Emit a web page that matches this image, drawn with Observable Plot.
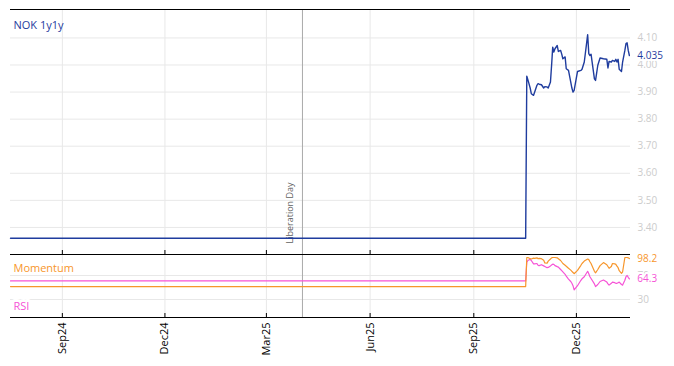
<!DOCTYPE html>
<html><head><meta charset="utf-8">
<script src="https://cdn.jsdelivr.net/npm/d3@7"></script>
<script src="https://cdn.jsdelivr.net/npm/@observablehq/plot@0.6"></script>
<style>
body{margin:0;background:#fff;}
#wrap{position:relative;width:674px;height:366px;font-family:"Open Sans",sans-serif;}
#wrap svg{position:absolute;left:0;overflow:visible;}
</style></head><body><div id="wrap"></div>
<script>
const dates = ["2024-07-17","2025-10-17",
"2025-10-18","2025-10-19","2025-10-21","2025-10-22","2025-10-24","2025-10-25","2025-10-27","2025-10-28","2025-10-29","2025-10-31",
"2025-11-02","2025-11-03","2025-11-05","2025-11-06","2025-11-08","2025-11-09","2025-11-10","2025-11-11","2025-11-12","2025-11-14",
"2025-11-15","2025-11-17","2025-11-18","2025-11-19","2025-11-21","2025-11-22","2025-11-24","2025-11-26","2025-11-27","2025-11-28",
"2025-11-29","2025-12-02","2025-12-05","2025-12-06","2025-12-08","2025-12-11","2025-12-12","2025-12-13","2025-12-14","2025-12-17",
"2025-12-18","2025-12-20","2025-12-22","2025-12-25","2025-12-28","2025-12-29","2025-12-30","2026-01-01","2026-01-02","2026-01-04",
"2026-01-05","2026-01-06","2026-01-07","2026-01-08","2026-01-10","2026-01-11","2026-01-13","2026-01-14","2026-01-15","2026-01-16","2026-01-17"];
const nok = [3.36,3.36,
3.959,3.945,3.915,3.894,3.888,3.900,3.925,3.931,3.929,3.927,
3.915,3.920,3.919,3.915,3.937,3.999,4.066,4.048,4.060,4.072,
4.050,4.054,4.040,4.023,4.030,3.986,3.980,3.937,3.915,3.900,
3.906,3.976,3.980,3.984,4.011,4.112,4.042,4.035,4.040,3.949,
3.943,3.999,4.026,4.023,4.021,3.989,4.013,4.011,4.017,4.013,
4.021,4.011,4.021,3.984,3.976,4.011,4.054,4.079,4.082,4.054,4.035];
const momentum = [51.5,51.5,
100,100,98,97.5,99,98.5,99.5,98,98.5,98,
95.5,91,90.5,94,97.5,99.5,100,100,100,99.5,
98,95,92.5,90,87,85.5,82,79,77,75,
73,78.5,87,90,94,97.5,96.5,93,90,77,
74.5,80,86.5,91.5,88,85,82,85,90,89.5,
88.5,85.5,83,78,73.5,76,100,100,100,99.5,98.2];
const rsi = [61,61,
92,95,97,95,89.5,89.5,90,87,86.5,88,
86,85,83,83.5,86,87.5,89,88.5,86.5,84.8,
84,80,78,76,72,69,64,60,57,53,
46,53,62,64.5,68,77,73,68,65,56,
51.5,55,60,62.5,59,56,54,57,59,58,
57,57,58,59,55,54,62,68,70,67,64.3];
const xTicks = ["2024-09-01","2024-12-01","2025-03-01","2025-06-01","2025-09-01","2025-12-01"];
const nokTicks = [3.4,3.5,3.6,3.7,3.8,3.9,4.0,4.1];
const indTicks = [30,70];
const eventDate = "2025-04-02";
const eventLabel = "Liberation Day";
const seriesName = "NOK 1y1y";
const momName = "Momentum";
const rsiName = "RSI";

const parse = d3.utcParse("%Y-%m-%d");
const rows = dates.map((d,i)=>({date:parse(d), nok:nok[i], mom:momentum[i], rsi:rsi[i]}));
const xT = xTicks.map(parse);
const ev = parse(eventDate);
const xDomain = [parse("2024-07-17"), parse("2026-01-18")];
const nokDomain = [3.30, 4.205];
const indDomain = [0, 105];
const last = rows[rows.length-1];
const blue = "#1f3c9e", orange = "#f7962b", pink = "#f653d6", grid = "#e8e8e8", tickCol = "#cccccc";
const W = 674, mL = 10, mR = 44;
const style = {fontFamily:"Open Sans, sans-serif", fontSize:"10px", background:"transparent", overflow:"visible"};

const topPlot = Plot.plot({
  width: W, height: 256, marginTop: 9, marginBottom: 2, marginLeft: mL, marginRight: mR,
  style,
  x: {type:"utc", domain: xDomain, axis: null},
  y: {domain: nokDomain, axis: null},
  marks: [
    Plot.gridY(nokTicks, {stroke: grid, strokeOpacity: 1}),
    Plot.gridX(xT, {stroke: grid, strokeOpacity: 1}),
    Plot.ruleX([ev], {stroke: "#aaaaaa"}),
    Plot.text([eventLabel], {x: ev, y: nokDomain[0], rotate: -90, textAnchor: "start", lineAnchor: "middle", dx: -12, dy: -11, fill: "#5f5f5f", fontSize: 9}),
    Plot.line(rows, {x: "date", y: "nok", stroke: blue, strokeWidth: 1.4}),
    Plot.ruleY([nokDomain[1]], {stroke: "black"}),
    Plot.ruleY([nokDomain[0]], {stroke: "black"}),
    Plot.axisY(nokTicks, {anchor: "right", tickSize: 0, tickPadding: 7, tickFormat: d3.format(".2f"), fill: tickCol, fontSize: 10, label: null}),
    Plot.text([last], {x: "date", y: "nok", text: d => d3.format(".3f")(d.nok), dx: 8, textAnchor: "start", fill: blue, stroke: "white", strokeWidth: 4, fontSize: 10}),
    Plot.text([seriesName], {frameAnchor: "top-left", dx: 3, dy: 16, textAnchor: "start", lineAnchor: "middle", fill: blue, fontSize: 11})
  ]
});

const bottomPlot = Plot.plot({
  width: W, height: 116, marginTop: 4, marginBottom: 49, marginLeft: mL, marginRight: mR,
  style,
  x: {type:"utc", domain: xDomain, axis: null},
  y: {domain: indDomain, axis: null},
  marks: [
    Plot.gridY(indTicks, {stroke: grid, strokeOpacity: 1}),
    Plot.gridX(xT, {stroke: grid, strokeOpacity: 1}),
    Plot.ruleX([ev], {stroke: "#aaaaaa"}),
    Plot.text([momName], {frameAnchor: "top-left", dx: 3, dy: 14, textAnchor: "start", lineAnchor: "middle", fill: orange, fontSize: 11, stroke: "white", strokeWidth: 6}),
    Plot.text([rsiName], {frameAnchor: "bottom-left", dx: 3, dy: -11, textAnchor: "start", lineAnchor: "middle", fill: pink, fontSize: 11, stroke: "white", strokeWidth: 6}),
    Plot.line(rows, {x: "date", y: "rsi", stroke: pink, strokeWidth: 1.2}),
    Plot.line(rows, {x: "date", y: "mom", stroke: orange, strokeWidth: 1.2}),
    Plot.ruleY([indDomain[1]], {stroke: "black"}),
    Plot.ruleY([indDomain[0]], {stroke: "black"}),
    Plot.tickX(xT, {x: d => d, insetTop: -4, insetBottom: 63, stroke: "black"}),
    Plot.tickX(xT, {x: d => d, insetTop: 59, stroke: "black"}),
    Plot.axisY(indTicks, {anchor: "right", tickSize: 0, tickPadding: 7, fill: tickCol, fontSize: 10, label: null}),
    Plot.text([last], {x: "date", y: "mom", text: d => d3.format(".1f")(d.mom), dx: 8, textAnchor: "start", fill: orange, stroke: "white", strokeWidth: 4, fontSize: 10}),
    Plot.text([last], {x: "date", y: "rsi", text: d => d3.format(".1f")(d.rsi), dx: 8, textAnchor: "start", fill: pink, stroke: "white", strokeWidth: 4, fontSize: 10}),
    Plot.axisX(xT, {anchor: "bottom", tickSize: 0, tickPadding: 5, tickRotate: -90, tickFormat: d3.utcFormat("%b%y"), fill: "black", fontSize: 11, label: null})
  ]
});

topPlot.style.top = "0px";
bottomPlot.style.top = "250px";
const wrap = document.getElementById("wrap");
wrap.appendChild(topPlot);
wrap.appendChild(bottomPlot);
</script></body></html>
